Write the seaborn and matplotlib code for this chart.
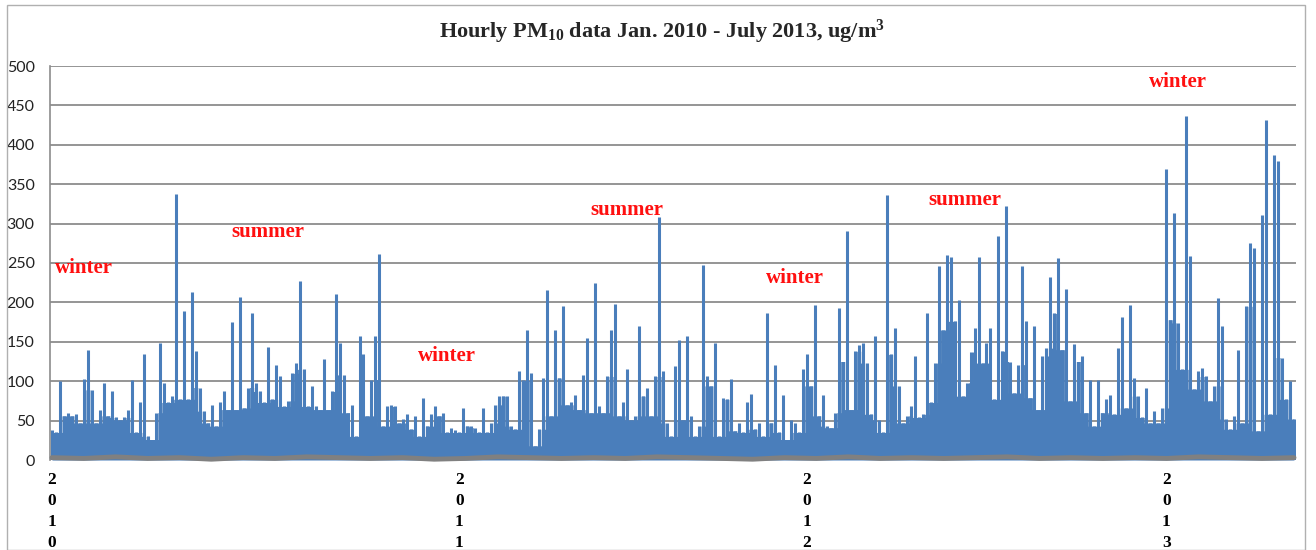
import numpy as np
import pandas as pd
import matplotlib
matplotlib.use('Agg')
import matplotlib.pyplot as plt
from matplotlib.patches import Rectangle
import seaborn as sns

# ── Hourly PM10 (ug/m3), one value per ~4 px of width ──────────────────────────
pm10_2010 = [38, 35, 100, 56, 60, 56, 58, 47, 103, 139, 89, 47, 64, 98, 56, 87, 54, 51, 54, 64,
             101, 35, 73, 134, 30, 26, 60, 148, 98, 73, 81, 338, 77, 189, 77, 213, 138, 92, 62, 47,
             70, 43, 73, 87, 64, 175, 64, 207, 66, 92, 186, 98, 87, 73, 144, 77, 121, 106, 68, 75,
             110, 123, 227,
             115, 68, 94, 68, 64, 128, 64, 87, 211, 149, 108, 60, 70, 30, 157, 134, 56, 102, 157, 262,
             43, 68, 70, 68, 47, 52, 58, 39, 56, 30, 79, 43, 58, 68, 56, 60, 35, 41, 38]
pm10_2011 = [35, 66, 43, 43, 41, 35, 66, 35, 47, 70, 81, 81, 81, 43, 39, 113, 101, 165, 110, 18,
             39, 104, 216,
             56, 165, 104, 195, 70, 73, 83, 64, 108, 155, 60, 225, 68, 60, 106, 165, 198, 56, 73, 116,
             51, 56, 170, 81, 92, 56, 106, 309, 113, 47, 30, 119, 152, 51, 157, 56, 30, 43, 248, 106,
             94, 149, 30, 79, 77, 103, 37, 47, 35, 73, 84, 39, 47, 30, 186, 47, 121, 35, 83, 26,
             51, 47, 35, 115]
pm10_2012 = [134, 94, 197, 56, 83, 43, 41, 60, 193, 125, 290, 64, 138, 146, 149, 123, 58, 157, 51, 35,
             336, 134, 168, 94, 47, 56, 68, 132, 54, 58, 186, 73, 123, 246, 165, 260, 257, 176, 203, 81,
             98, 137, 168, 257, 123, 148, 168, 77, 284, 138, 322, 125, 85, 121, 246, 177, 79, 170, 64, 132,
             142,
             232, 186, 256, 140, 217, 75, 147, 125, 132, 60, 102, 43, 102, 60, 77, 83, 58, 142, 182, 66,
             197, 104, 81, 54, 92, 47, 62, 47, 66]
pm10_2013 = [369, 178, 313, 174, 115, 436, 259, 90, 113, 117, 106, 75, 94, 206, 170, 52, 39, 56, 140, 47,
             195, 275, 269, 37, 311, 431, 58, 387, 379, 130, 77, 100, 52]

# second (grey) series hugging the zero line
grey_series = [3, 2, 4, 2, 3, 1, 3, 2, 4, 3, 2, 3, 1, 2, 4, 3, 2, 3, 2, 4,
               3, 2, 1, 3, 2, 4, 2, 3, 2, 3, 4, 2, 3, 2, 3, 2, 4, 3, 2, 3]

years = ['2010', '2011', '2012', '2013']
seasons = ['winter', 'summer', 'winter', 'summer', 'winter', 'summer', 'winter']
season_x = [8, 54, 99, 144, 186, 228.5, 282]
season_y = [244, 289, 132, 317, 231, 330, 480]

BLUE = '#4A7EBB'
GREY = '#808080'

# ── Build table ────────────────────────────────────────────────────────────────
parts = [pm10_2010, pm10_2011, pm10_2012, pm10_2013]
values = np.concatenate([np.array(p, dtype=float) for p in parts])
df = pd.DataFrame({'idx': np.arange(len(values)), 'pm10': values})
# the dense lower band: the lowest of each sample and its neighbours
df['base'] = df['pm10'].rolling(3, center=True, min_periods=1).min()
year_starts = np.cumsum([0] + [len(p) for p in parts[:-1]])
gdf = pd.DataFrame({'idx': np.linspace(0, len(values) - 1, len(grey_series)), 'v': grey_series})

# ── Plot ───────────────────────────────────────────────────────────────────────
sns.set_style('white')
plt.rcParams['font.family'] = ['Liberation Serif', 'DejaVu Serif']
plt.rcParams['mathtext.fontset'] = 'custom'
plt.rcParams['mathtext.rm'] = 'Liberation Serif:bold'
plt.rcParams['mathtext.it'] = 'Liberation Serif:bold'
plt.rcParams['mathtext.bf'] = 'Liberation Serif:bold'

fig = plt.figure(figsize=(13.16, 5.5), dpi=100)
ax = fig.add_axes([50 / 1316, 1 - 460 / 550, 1246 / 1316, 394 / 550])

ax.fill_between(df['idx'], 0, df['base'], step='mid', color=BLUE, lw=0, zorder=2)
ax.vlines(df['idx'], 0, df['pm10'], color=BLUE, lw=2.2, zorder=3)
sns.lineplot(data=gdf, x='idx', y='v', ax=ax, color=GREY, lw=3.5, zorder=4, clip_on=False)

ax.set_xlim(-0.5, len(values) - 0.5)
ax.set_ylim(0, 500)
ax.set_yticks(range(0, 501, 50))
ax.yaxis.grid(True, color='#8C8C8C', lw=1.3)
ax.set_axisbelow(True)
for s in ['top', 'right', 'bottom']:
    ax.spines[s].set_visible(False)
ax.spines['left'].set_color('#8C8C8C')
ax.spines['left'].set_linewidth(1.2)

ax.set_yticklabels([str(v) for v in range(0, 501, 50)], family=['Lato', 'DejaVu Sans'],
                   fontsize=11.5, color='#222222')
ax.tick_params(axis='y', length=4, color='#8C8C8C', pad=7)
ax.set_xticks(year_starts)
ax.set_xticklabels(['\n'.join(y) for y in years], fontsize=12.5, fontweight='bold',
                   linespacing=1.4, color='black')
ax.tick_params(axis='x', length=0, pad=9)
ax.set_xlabel('')
ax.set_ylabel('')

for lab, sx, sy in zip(seasons, season_x, season_y):
    ax.text(sx, sy, lab, color='#FF1010', fontsize=15, fontweight='bold',
            ha='center', va='center', zorder=5)

fig.text(662 / 1316, 1 - 32 / 550,
         r'Hourly PM$_{\mathregular{10}}$ data Jan. 2010 - July 2013, ug/m$^{\mathregular{3}}$',
         ha='center', va='center', fontsize=16, fontweight='bold')

fig.patches.append(Rectangle((7 / 1316, 0), 1298 / 1316, 545 / 550, transform=fig.transFigure,
                             fill=False, edgecolor='#B0B0B0', lw=1))

plt.savefig('out.png', dpi=100)
plt.close()
